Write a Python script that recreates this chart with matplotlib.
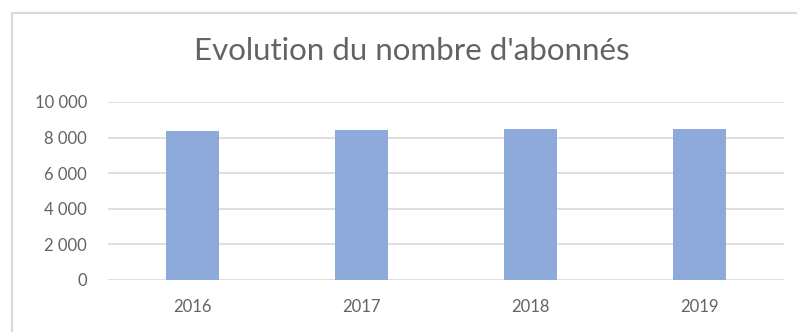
import matplotlib
matplotlib.use("Agg")
import matplotlib.pyplot as plt
from matplotlib.lines import Line2D
from matplotlib.ticker import FuncFormatter

years = ["2016", "2017", "2018", "2019"]
abonnes = [8350, 8420, 8480, 8490]
yticks = [0, 2000, 4000, 6000, 8000, 10000]

BAR = "#8eaadb"
GRID = "#d9d9d9"
TEXT = "#636363"
FONT = "Lato"

fig = plt.figure(figsize=(7.97, 3.32), dpi=100)
fig.patch.set_facecolor("white")
ax = fig.add_axes([108 / 797, 1 - 280 / 332, (784 - 108) / 797, (280 - 102) / 332])

x = range(len(years))
ax.bar(x, abonnes, width=0.31, color=BAR, zorder=3)
ax.set_xlim(-0.5, len(years) - 0.5)
ax.set_ylim(0, 10000)
ax.set_yticks(yticks)
ax.yaxis.set_major_formatter(FuncFormatter(lambda v, _: f"{int(v):,}".replace(",", " ")))
ax.set_xticks(list(x))
ax.set_xticklabels(years)
ax.yaxis.grid(True, color=GRID, lw=1.2, zorder=0)
for s in ax.spines.values():
    s.set_visible(False)
ax.tick_params(length=0, labelsize=12, labelcolor=TEXT)
ax.tick_params(axis="y", pad=15)
ax.tick_params(axis="x", pad=14)
for lab in ax.get_xticklabels() + ax.get_yticklabels():
    lab.set_fontfamily(FONT)

fig.text(412 / 797, 1 - 51 / 332, "Evolution du nombre d'abonnés", ha="center", va="center",
         fontsize=22.5, color=TEXT, family=FONT)

# chart frame (left and top edges visible)
fig.add_artist(Line2D([12 / 797, 12 / 797], [0, 1 - 13 / 332], transform=fig.transFigure,
                      color=GRID, lw=1.5))
fig.add_artist(Line2D([12 / 797, 1], [1 - 13 / 332, 1 - 13 / 332], transform=fig.transFigure,
                      color=GRID, lw=1.5))

fig.savefig("out.png", dpi=100, facecolor="white")
